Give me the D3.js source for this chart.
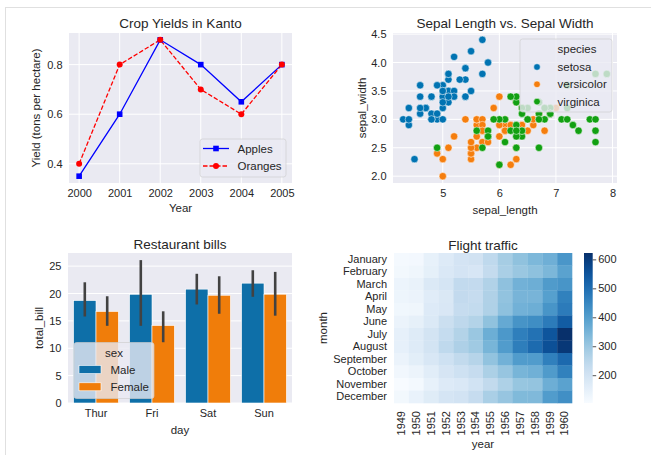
<!DOCTYPE html>
<html>
<head>
<meta charset="utf-8">
<title>Four panels</title>
<script src="https://cdn.jsdelivr.net/npm/d3@7"></script>
<style>
    body { margin: 0; background: #fff; }
    text { font-family: "Liberation Sans", Arial, sans-serif; fill: #262626; }
    .tick text { font-size: 11px; fill: #262626; }
    .title { font-size: 13.5px; text-anchor: middle; }
    .label { font-size: 11.5px; text-anchor: middle; }
    .leg { font-size: 11.5px; }
</style>
</head>
<body>
<svg id="fig" width="651" height="455"></svg>
<script>
// ---- crop yields ----
var cropYears = [2000, 2001, 2002, 2003, 2004, 2005];
var apples = [0.35, 0.6, 0.9, 0.8, 0.65, 0.8];
var oranges = [0.4, 0.8, 0.9, 0.7, 0.6, 0.8];

// ---- iris sepal length / width ----
var setosaLength = [5.1,4.9,4.7,4.6,5.0,5.4,4.6,5.0,4.4,4.9,5.4,4.8,4.8,4.3,5.8,5.7,5.4,5.1,5.7,5.1,5.4,5.1,4.6,5.1,4.8,5.0,5.0,5.2,5.2,4.7,4.8,5.4,5.2,5.5,4.9,5.0,5.5,4.9,4.4,5.1,5.0,4.5,4.4,5.0,5.1,4.8,5.1,4.6,5.3,5.0];
var setosaWidth = [3.5,3.0,3.2,3.1,3.6,3.9,3.4,3.4,2.9,3.1,3.7,3.4,3.0,3.0,4.0,4.4,3.9,3.5,3.8,3.8,3.4,3.7,3.6,3.3,3.4,3.0,3.4,3.5,3.4,3.2,3.1,3.4,4.1,4.2,3.1,3.2,3.5,3.6,3.0,3.4,3.5,2.3,3.2,3.5,3.8,3.0,3.8,3.2,3.7,3.3];
var versicolorLength = [7.0,6.4,6.9,5.5,6.5,5.7,6.3,4.9,6.6,5.2,5.0,5.9,6.0,6.1,5.6,6.7,5.6,5.8,6.2,5.6,5.9,6.1,6.3,6.1,6.4,6.6,6.8,6.7,6.0,5.7,5.5,5.5,5.8,6.0,5.4,6.0,6.7,6.3,5.6,5.5,5.5,6.1,5.8,5.0,5.6,5.7,5.7,6.2,5.1,5.7];
var versicolorWidth = [3.2,3.2,3.1,2.3,2.8,2.8,3.3,2.4,2.9,2.7,2.0,3.0,2.2,2.9,2.9,3.1,3.0,2.7,2.2,2.5,3.2,2.8,2.5,2.8,2.9,3.0,2.8,3.0,2.9,2.6,2.4,2.4,2.7,2.7,3.0,3.4,3.1,2.3,3.0,2.5,2.6,3.0,2.6,2.3,2.7,3.0,2.9,2.9,2.5,2.8];
var virginicaLength = [6.3,5.8,7.1,6.3,6.5,7.6,4.9,7.3,6.7,7.2,6.5,6.4,6.8,5.7,5.8,6.4,6.5,7.7,7.7,6.0,6.9,5.6,7.7,6.3,6.7,7.2,6.2,6.1,6.4,7.2,7.4,7.9,6.4,6.3,6.1,7.7,6.3,6.4,6.0,6.9,6.7,6.9,5.8,6.8,6.7,6.7,6.3,6.5,6.2,5.9];
var virginicaWidth = [3.3,2.7,3.0,2.9,3.0,3.0,2.5,2.9,2.5,3.6,3.2,2.7,3.0,2.5,2.8,3.2,3.0,3.8,2.6,2.2,3.2,2.8,2.8,2.7,3.3,3.2,2.8,3.0,2.8,3.0,2.8,3.8,2.8,2.8,2.6,3.0,3.4,3.1,3.0,3.1,3.1,3.1,2.7,3.2,3.3,3.0,2.5,3.0,3.4,3.0];
var species = ["setosa", "versicolor", "virginica"];

// ---- restaurant bills ----
var days = ["Thur", "Fri", "Sat", "Sun"];
var sexes = ["Male", "Female"];
var maleMean = [18.71, 19.86, 20.80, 21.89];
var maleLow = [15.8, 14.1, 18.0, 19.4];
var maleHigh = [22.05, 26.1, 23.6, 24.25];
var femaleMean = [16.72, 14.15, 19.68, 19.87];
var femaleLow = [14.1, 11.1, 16.3, 15.95];
var femaleHigh = [19.5, 16.75, 23.15, 23.95];

// ---- flight traffic ----
var months = ["January","February","March","April","May","June","July","August","September","October","November","December"];
var flightYears = [1949,1950,1951,1952,1953,1954,1955,1956,1957,1958,1959,1960];
var passengers = [
    [112,118,132,129,121,135,148,148,136,119,104,118],
    [115,126,141,135,125,149,170,170,158,133,114,140],
    [145,150,178,163,172,178,199,199,184,162,146,166],
    [171,180,193,181,183,218,230,242,209,191,172,194],
    [196,196,236,235,229,243,264,272,237,211,180,201],
    [204,188,235,227,234,264,302,293,259,229,203,229],
    [242,233,267,269,270,315,364,347,312,274,237,278],
    [284,277,317,313,318,374,413,405,355,306,271,306],
    [315,301,356,348,355,422,465,467,404,347,305,336],
    [340,318,362,348,363,435,491,505,404,359,310,337],
    [360,342,406,396,420,472,548,559,463,407,362,405],
    [417,391,419,461,472,535,622,606,508,461,390,432]
];

var svg = d3.select("#fig");
var BG = "#EAEAF2";

// notebook frame lines
svg.append("line").attr("x1", 5).attr("x2", 651).attr("y1", 7.5).attr("y2", 7.5).attr("stroke", "#e0e0e0");
svg.append("line").attr("x1", 5.5).attr("x2", 5.5).attr("y1", 7).attr("y2", 455).attr("stroke", "#e0e0e0");

function axesBg(x0, y0, w, h) {
    svg.append("rect").attr("x", x0).attr("y", y0).attr("width", w).attr("height", h).attr("fill", BG);
}
function hGrid(y, vals, x0, x1) {
    vals.forEach(function(v) {
        svg.append("line").attr("x1", x0).attr("x2", x1).attr("y1", y(v)).attr("y2", y(v))
            .attr("stroke", "#fff").attr("stroke-width", 1);
    });
}
function vGrid(x, vals, y0, y1) {
    vals.forEach(function(v) {
        svg.append("line").attr("x1", x(v)).attr("x2", x(v)).attr("y1", y0).attr("y2", y1)
            .attr("stroke", "#fff").attr("stroke-width", 1);
    });
}
function drawAxis(axis, tx, ty) {
    var g = svg.append("g").attr("transform", "translate(" + tx + "," + ty + ")").call(axis);
    g.select(".domain").remove();
    g.selectAll(".tick line").remove();
    return g;
}
function legendBox(x0, y0, w, h) {
    svg.append("rect").attr("x", x0).attr("y", y0).attr("width", w).attr("height", h)
        .attr("rx", 2.5).attr("fill", BG).attr("fill-opacity", 0.8)
        .attr("stroke", "#cccccc").attr("stroke-opacity", 0.8).attr("stroke-width", 0.8);
}

// ================= Panel 1: Crop yields =================
(function() {
    var L = 69, R = 292, T = 33, B = 183;
    var x = d3.scaleLinear().domain([1999.75, 2005.25]).range([L, R]);
    var y = d3.scaleLinear().domain([0.3225, 0.9275]).range([B, T]);
    axesBg(L, T, R - L, B - T);
    vGrid(x, cropYears, T, B);
    hGrid(y, [0.4, 0.6, 0.8], L, R);

    drawAxis(d3.axisBottom(x).tickValues(cropYears).tickFormat(d3.format("d")).tickSize(0).tickPadding(6), 0, B);
    drawAxis(d3.axisLeft(y).tickValues([0.4, 0.6, 0.8]).tickFormat(d3.format(".1f")).tickSize(0).tickPadding(6.5), L, 0);

    var line = d3.line().x(function(d, i) { return x(cropYears[i]); }).y(function(d) { return y(d); });
    svg.append("path").datum(apples).attr("d", line).attr("fill", "none").attr("stroke", "#0000ff").attr("stroke-width", 1.3);
    svg.append("path").datum(oranges).attr("d", line).attr("fill", "none").attr("stroke", "#ff0000")
        .attr("stroke-width", 1.3).attr("stroke-dasharray", "4.5,2");
    svg.selectAll(".apl").data(apples).enter().append("rect")
        .attr("x", function(d, i) { return x(cropYears[i]) - 2.8; })
        .attr("y", function(d) { return y(d) - 2.8; })
        .attr("width", 5.6).attr("height", 5.6).attr("fill", "#0000ff");
    svg.selectAll(".org").data(oranges).enter().append("circle")
        .attr("cx", function(d, i) { return x(cropYears[i]); })
        .attr("cy", function(d) { return y(d); })
        .attr("r", 3).attr("fill", "#ff0000");

    svg.append("text").attr("class", "title").attr("x", (L + R) / 2).attr("y", 27.5).text("Crop Yields in Kanto");
    svg.append("text").attr("class", "label").attr("x", (L + R) / 2).attr("y", 212).text("Year");
    svg.append("text").attr("class", "label").attr("transform", "translate(40," + (T + B) / 2 + ") rotate(-90)").text("Yield (tons per hectare)");

    // legend
    legendBox(200, 139, 86, 38);
    svg.append("line").attr("x1", 203).attr("x2", 229).attr("y1", 148.5).attr("y2", 148.5).attr("stroke", "#0000ff").attr("stroke-width", 1.3);
    svg.append("rect").attr("x", 213.2).attr("y", 145.7).attr("width", 5.6).attr("height", 5.6).attr("fill", "#0000ff");
    svg.append("line").attr("x1", 203).attr("x2", 229).attr("y1", 166).attr("y2", 166).attr("stroke", "#ff0000")
        .attr("stroke-width", 1.3).attr("stroke-dasharray", "4.5,2");
    svg.append("circle").attr("cx", 216).attr("cy", 166).attr("r", 3).attr("fill", "#ff0000");
    svg.append("text").attr("class", "leg").attr("x", 237.5).attr("y", 152.5).text("Apples");
    svg.append("text").attr("class", "leg").attr("x", 237.5).attr("y", 170).text("Oranges");
})();

// ================= Panel 2: Iris scatter =================
(function() {
    var L = 393, R = 617, T = 33, B = 183;
    var x = d3.scaleLinear().domain([4.12, 8.08]).range([L, R]);
    var y = d3.scaleLinear().domain([1.88, 4.52]).range([B, T]);
    var color = d3.scaleOrdinal().domain(species).range(["#0173B2", "#F57E0E", "#12A012"]);
    axesBg(L, T, R - L, B - T);
    vGrid(x, [5, 6, 7, 8], T, B);
    hGrid(y, [2.0, 2.5, 3.0, 3.5, 4.0, 4.5], L, R);

    drawAxis(d3.axisBottom(x).tickValues([5, 6, 7, 8]).tickFormat(d3.format("d")).tickSize(0).tickPadding(6), 0, B);
    drawAxis(d3.axisLeft(y).tickValues([2.0, 2.5, 3.0, 3.5, 4.0, 4.5]).tickFormat(d3.format(".1f")).tickSize(0).tickPadding(6.5), L, 0);

    var pts = [];
    [[setosaLength, setosaWidth], [versicolorLength, versicolorWidth], [virginicaLength, virginicaWidth]].forEach(function(s, k) {
        s[0].forEach(function(v, i) { pts.push({ sp: species[k], l: v, w: s[1][i] }); });
    });
    svg.selectAll(".pt").data(pts).enter().append("circle")
        .attr("cx", function(d) { return x(d.l); })
        .attr("cy", function(d) { return y(d.w); })
        .attr("r", 3.7)
        .attr("fill", function(d) { return color(d.sp); })
        .attr("stroke", "#fff").attr("stroke-width", 0.5);

    svg.append("text").attr("class", "title").attr("x", (L + R) / 2).attr("y", 27.5).text("Sepal Length vs. Sepal Width");
    svg.append("text").attr("class", "label").attr("x", (L + R) / 2).attr("y", 214).text("sepal_length");
    svg.append("text").attr("class", "label").attr("transform", "translate(366," + (T + B) / 2 + ") rotate(-90)").text("sepal_width");

    legendBox(520, 39, 92, 73);
    svg.append("text").attr("class", "leg").attr("x", 557.5).attr("y", 53).text("species");
    species.forEach(function(s, i) {
        var cy = 67 + i * 17.3;
        svg.append("circle").attr("cx", 537).attr("cy", cy).attr("r", 3.3).attr("fill", color(s)).attr("stroke", "#fff").attr("stroke-width", 0.5);
        svg.append("text").attr("class", "leg").attr("x", 557.5).attr("y", cy + 4).text(s);
    });
})();

// ================= Panel 3: Restaurant bills =================
(function() {
    var L = 68, R = 292, T = 253, B = 403;
    var x = d3.scaleBand().domain(days).range([L, R]);
    var xs = d3.scaleBand().domain(sexes).range([0, x.bandwidth() * 0.8]);
    var y = d3.scaleLinear().domain([0, 27.4]).range([B, T]);
    var colors = { Male: "#0E6FA8", Female: "#F07D0A" };
    axesBg(L, T, R - L, B - T);
    hGrid(y, [0, 5, 10, 15, 20, 25], L, R);

    drawAxis(d3.axisBottom(x).tickSize(0).tickPadding(6), 0, B);
    drawAxis(d3.axisLeft(y).tickValues([0, 5, 10, 15, 20, 25]).tickSize(0).tickPadding(6.5), L, 0);

    var bars = [];
    days.forEach(function(d, i) {
        bars.push({ day: d, sex: "Male", m: maleMean[i], lo: maleLow[i], hi: maleHigh[i] });
        bars.push({ day: d, sex: "Female", m: femaleMean[i], lo: femaleLow[i], hi: femaleHigh[i] });
    });
    function bx(d) { return x(d.day) + x.bandwidth() * 0.1 + xs(d.sex); }
    svg.selectAll(".bar").data(bars).enter().append("rect")
        .attr("x", bx)
        .attr("y", function(d) { return y(d.m); })
        .attr("width", xs.bandwidth())
        .attr("height", function(d) { return B - y(d.m); })
        .attr("fill", function(d) { return colors[d.sex]; })
        .attr("stroke", "#fff").attr("stroke-width", 0.6);
    svg.selectAll(".err").data(bars).enter().append("line")
        .attr("x1", function(d) { return bx(d) + xs.bandwidth() / 2; })
        .attr("x2", function(d) { return bx(d) + xs.bandwidth() / 2; })
        .attr("y1", function(d) { return y(d.lo); })
        .attr("y2", function(d) { return y(d.hi); })
        .attr("stroke", "#424242").attr("stroke-width", 2.6);

    svg.append("text").attr("class", "title").attr("x", (L + R) / 2).attr("y", 248.5).text("Restaurant bills");
    svg.append("text").attr("class", "label").attr("x", (L + R) / 2).attr("y", 434).text("day");
    svg.append("text").attr("class", "label").attr("transform", "translate(43," + (T + B) / 2 + ") rotate(-90)").text("total_bill");

    legendBox(74, 342.5, 80, 56);
    svg.append("text").attr("class", "leg").attr("x", 114).attr("y", 357).attr("text-anchor", "middle").text("sex");
    sexes.forEach(function(s, i) {
        var cy = 369.5 + i * 17.3;
        svg.append("rect").attr("x", 79).attr("y", cy - 4).attr("width", 22).attr("height", 8)
            .attr("fill", colors[s]).attr("stroke", "#fff").attr("stroke-width", 0.6);
        svg.append("text").attr("class", "leg").attr("x", 110.5).attr("y", cy + 4).text(s);
    });
})();

// ================= Panel 4: Flight traffic =================
(function() {
    var L = 394, R = 572, T = 253, B = 403;
    var x = d3.scaleBand().domain(flightYears).range([L, R]);
    var y = d3.scaleBand().domain(months).range([T, B]);
    var color = d3.scaleSequential(d3.interpolateBlues).domain([104, 622]);

    var cells = [];
    flightYears.forEach(function(yr, i) {
        months.forEach(function(m, j) { cells.push({ yr: yr, m: m, v: passengers[i][j] }); });
    });
    svg.selectAll(".cell").data(cells).enter().append("rect")
        .attr("x", function(d) { return x(d.yr); })
        .attr("y", function(d) { return y(d.m); })
        .attr("width", x.bandwidth() + 0.3)
        .attr("height", y.bandwidth() + 0.3)
        .attr("fill", function(d) { return color(d.v); });

    var ya = drawAxis(d3.axisLeft(y).tickSize(0).tickPadding(7), L, 0);
    ya.selectAll("text").style("font-size", "11px");
    var xa = drawAxis(d3.axisBottom(x).tickSize(0).tickPadding(7), 0, B);
    xa.selectAll("text")
        .attr("transform", "rotate(-90)")
        .attr("x", -8).attr("y", 0).attr("dy", "0.35em")
        .style("text-anchor", "end");

    // colorbar
    var cL = 584, cW = 8.7;
    var cy = d3.scaleLinear().domain([104, 622]).range([B, T]);
    var grad = svg.append("defs").append("linearGradient").attr("id", "cbar")
        .attr("x1", 0).attr("x2", 0).attr("y1", 1).attr("y2", 0);
    d3.range(0, 1.0001, 0.05).forEach(function(t) {
        grad.append("stop").attr("offset", t).attr("stop-color", d3.interpolateBlues(t));
    });
    svg.append("rect").attr("x", cL).attr("y", T).attr("width", cW).attr("height", B - T).attr("fill", "url(#cbar)");
    var ca = svg.append("g").attr("transform", "translate(" + (cL + cW) + ",0)")
        .call(d3.axisRight(cy).tickValues([200, 300, 400, 500, 600]).tickSize(3.5).tickPadding(2));
    ca.select(".domain").remove();
    ca.selectAll(".tick line").attr("stroke", "#262626").attr("stroke-width", 0.8);

    svg.append("text").attr("class", "title").attr("x", (L + R) / 2).attr("y", 249.5).text("Flight traffic");
    svg.append("text").attr("class", "label").attr("x", (L + R) / 2).attr("y", 448).text("year");
    svg.append("text").attr("class", "label").attr("transform", "translate(327," + (T + B) / 2 + ") rotate(-90)").text("month");
})();
</script>
</body>
</html>
